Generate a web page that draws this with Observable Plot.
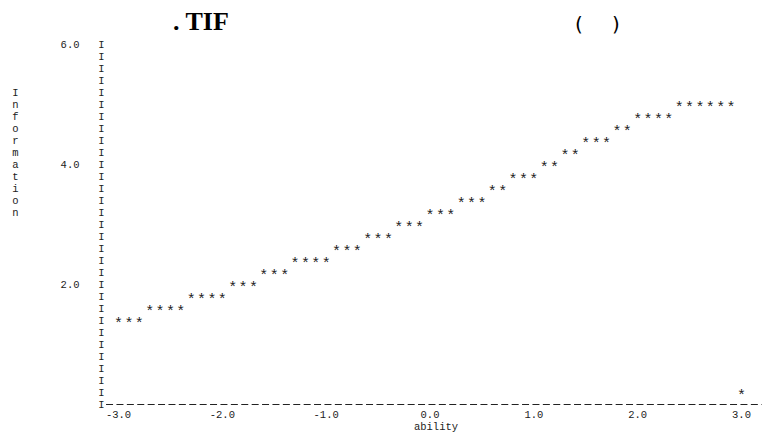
<!DOCTYPE html>
<html>
<head>
<meta charset="utf-8">
<script src="https://cdn.jsdelivr.net/npm/d3@7"></script>
<script src="https://cdn.jsdelivr.net/npm/@observablehq/plot@0.6"></script>
<style>
  html, body { margin: 0; padding: 0; background: #fff; }
  #wrap { width: 764px; height: 441px; position: relative; overflow: hidden; }
  #title { position: relative; width: 764px; height: 36px; }
  #title span { position: absolute; white-space: pre; color: #000; }
  .t1 { left: 173px; top: 9px; font: bold 26px/26px "Liberation Serif", serif; }
  .t2 { top: 14px; font: 20px/20px "DejaVu Sans", sans-serif; }
</style>
</head>
<body>
<div id="wrap">
  <div id="title"><span class="t1">. TIF</span><span class="t2" style="left:575px">(</span><span class="t2" style="left:612px">)</span></div>
  <div id="chart"></div>
</div>
<script>
// ---- data ----
const abilities = [
  -3.0,-2.9,-2.8,-2.7,-2.6,-2.5,-2.4,-2.3,-2.2,-2.1,-2.0,
  -1.9,-1.8,-1.7,-1.6,-1.5,-1.4,-1.3,-1.2,-1.1,-1.0,
  -0.9,-0.8,-0.7,-0.6,-0.5,-0.4,-0.3,-0.2,-0.1,0.0,
  0.1,0.2,0.3,0.4,0.5,0.6,0.7,0.8,0.9,1.0,
  1.1,1.2,1.3,1.4,1.5,1.6,1.7,1.8,1.9,2.0,
  2.1,2.2,2.3,2.4,2.5,2.6,2.7,2.8,2.9,3.0
];
const information = [
  1.4,1.4,1.4,1.6,1.6,1.6,1.6,1.8,1.8,1.8,1.8,
  2.0,2.0,2.0,2.2,2.2,2.2,2.4,2.4,2.4,2.4,
  2.6,2.6,2.6,2.8,2.8,2.8,3.0,3.0,3.0,3.2,
  3.2,3.2,3.4,3.4,3.4,3.6,3.6,3.8,3.8,3.8,
  4.0,4.0,4.2,4.2,4.4,4.4,4.4,4.6,4.6,4.8,
  4.8,4.8,4.8,5.0,5.0,5.0,5.0,5.0,5.0,0.2
];
const xTicks = [-3, -2, -1, 0, 1, 2, 3];
const yTicks = [2, 4, 6];
const yLabel = "Information";
const xLabel = "ability";

const points = abilities.map((a, i) => ({ability: a, information: information[i]}));
const rowStep = 0.2;
const rows = d3.range(0, 31).map(i => +(i * rowStep).toFixed(1));
const letters = yLabel.split("").map((c, i) => ({c, y: +(6 - (4 + i) * rowStep).toFixed(1)}));

const mono = "'Liberation Mono', 'DejaVu Sans Mono', monospace";
const ink = "#222";
const spaced = "letter-spacing:4px";

const chart = Plot.plot({
  width: 764,
  height: 405,
  marginLeft: 118,
  marginRight: 23,
  marginTop: 8,
  marginBottom: 37,
  style: { fontFamily: mono, fontSize: "10px", color: ink, background: "#fff", overflow: "visible" },
  x: { domain: [-3, 3] },
  y: { domain: [0, 6] },
  marks: [
    Plot.axisY({ ticks: yTicks, tickFormat: d => d.toFixed(1), tickSize: 0, tickPadding: 39, label: null,
      fontSize: 10.5, fill: ink, style: spaced }),
    Plot.axisX({ ticks: xTicks, tickFormat: d => d.toFixed(1), tickSize: 0, tickPadding: 6, label: null,
      fontSize: 10.5, fill: ink, style: spaced }),
    Plot.text(rows, { y: d => d, text: () => "I", frameAnchor: "left", textAnchor: "middle", dx: -17, fontSize: 10.5, fill: ink }),
    Plot.ruleY([0], { x1: -3.115, x2: 3.2, stroke: ink, strokeWidth: 1, strokeDasharray: "7,3.4" }),
    Plot.text(points, { x: "ability", y: "information", text: () => "*", fontSize: 15, dy: 2.5, fill: ink }),
    Plot.text(letters, { y: "y", text: "c", frameAnchor: "left", textAnchor: "middle", dx: -103, fontSize: 10.5, fill: ink }),
    Plot.text([xLabel], { x: 0, frameAnchor: "bottom", dy: 25, dx: 6, fontSize: 10.5, fill: ink,
      text: d => d, style: spaced })
  ]
});
document.getElementById("chart").appendChild(chart);
</script>
</body>
</html>
